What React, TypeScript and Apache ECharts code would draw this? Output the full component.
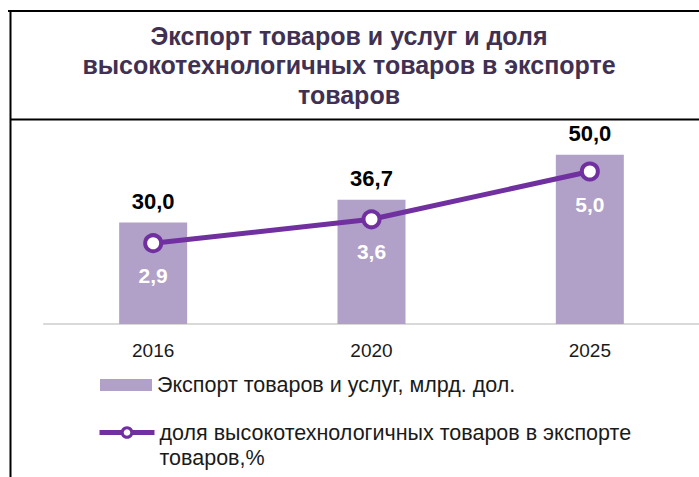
import React, { useEffect, useRef } from "react";
import * as echarts from "echarts";

const titleText = "Экспорт товаров и услуг и доля\nвысокотехнологичных товаров в экспорте\nтоваров";
const categories = ["2016", "2020", "2025"];
const barName = "Экспорт товаров и услуг, млрд. дол.";
const lineName = "доля высокотехнологичных товаров в экспорте товаров,%";
const lineLegendLines = ["доля высокотехнологичных товаров в экспорте", "товаров,%"];
const exportValues = [30.0, 36.7, 50.0];
const shareValues = [2.9, 3.6, 5.0];

const fmt = (v: number) => v.toFixed(1).replace(".", ",");
const FONT = "Liberation Sans, Arial, sans-serif";

export default function App() {
  const ref = useRef<HTMLDivElement>(null);
  useEffect(() => {
    if (!ref.current) return;
    const chart = echarts.init(ref.current, undefined, { renderer: "svg" });
    chart.setOption({
      animation: false,
      backgroundColor: "#ffffff",
      textStyle: { fontFamily: FONT },
      title: {
        text: titleText,
        left: 344,
        top: 16,
        textAlign: "center",
        textStyle: {
          fontSize: 25,
          fontWeight: "bold",
          color: "#403152",
          lineHeight: 29.5,
          fontFamily: FONT,
        },
      },
      graphic: [
        { type: "line", shape: { x1: 8, y1: 11, x2: 699, y2: 11 }, style: { stroke: "#000", lineWidth: 2 } },
        { type: "line", shape: { x1: 10.5, y1: 10, x2: 10.5, y2: 477 }, style: { stroke: "#000", lineWidth: 2 } },
        { type: "line", shape: { x1: 10, y1: 119.5, x2: 699, y2: 119.5 }, style: { stroke: "#000", lineWidth: 2 } },
      ],
      legend: [
        {
          data: [barName],
          left: 100,
          top: 374,
          padding: 0,
          itemWidth: 52,
          itemHeight: 12,
          icon: "rect",
          textStyle: { fontSize: 21.5, color: "#1a1a1a", fontFamily: FONT },
          selectedMode: false,
        },
        {
          data: [lineName],
          left: 97,
          top: 395,
          padding: 0,
          itemWidth: 55,
          itemHeight: 12,
          lineStyle: { width: 5 },
          itemStyle: { borderWidth: 3 },
          formatter: () => "\n" + lineLegendLines.join("\n"),
          textStyle: {
            fontSize: 21.5,
            lineHeight: 25,
            color: "#1a1a1a",
            fontFamily: FONT,
          },
          selectedMode: false,
        },
      ],
      grid: { left: 44, width: 659, top: 121, bottom: 153, containLabel: false },
      xAxis: {
        type: "category",
        data: categories,
        axisLine: { lineStyle: { color: "#D9D9D9", width: 2 } },
        axisTick: { show: false },
        axisLabel: { fontSize: 19, color: "#1a1a1a", margin: 17, fontFamily: FONT },
      },
      yAxis: [
        { type: "value", min: 0, max: 60, show: false, splitLine: { show: false } },
        { type: "value", min: 0.533, max: 6.48, show: false, splitLine: { show: false } },
      ],
      series: [
        {
          name: barName,
          type: "bar",
          data: exportValues,
          barWidth: 68,
          itemStyle: { color: "#B1A0C7" },
          label: {
            show: true,
            position: "top",
            distance: 10,
            fontSize: 22,
            fontWeight: "bold",
            color: "#000",
            formatter: (p: any) => fmt(p.value),
          },
        },
        {
          name: lineName,
          type: "line",
          yAxisIndex: 1,
          data: shareValues,
          symbol: "circle",
          symbolSize: 16,
          lineStyle: { color: "#7030A0", width: 5 },
          itemStyle: { color: "#ffffff", borderColor: "#7030A0", borderWidth: 4 },
          label: {
            show: true,
            position: "bottom",
            distance: 12,
            fontSize: 21,
            fontWeight: "bold",
            color: "#ffffff",
            formatter: (p: any) => fmt(p.value),
          },
          z: 3,
        },
      ],
    });
    return () => chart.dispose();
  }, []);
  return <div ref={ref} style={{ position: "fixed", left: 0, top: 0, width: 699, height: 477 }} />;
}
